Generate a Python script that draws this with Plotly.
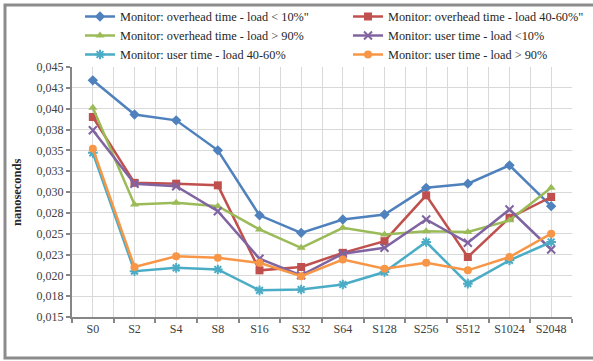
import plotly.graph_objects as go

categories = ["S0", "S2", "S4", "S8", "S16", "S32", "S64", "S128", "S256", "S512", "S1024", "S2048"]

overhead_lt10 = [0.0434, 0.0393, 0.0386, 0.0350, 0.0272, 0.0251, 0.0267, 0.0273, 0.0305, 0.0310, 0.0332, 0.0283]
overhead_40_60 = [0.0390, 0.0311, 0.0310, 0.0308, 0.0206, 0.0210, 0.0227, 0.0241, 0.0296, 0.0222, 0.0269, 0.0294]
overhead_gt90 = [0.0401, 0.0285, 0.0287, 0.0283, 0.0255, 0.0233, 0.0257, 0.0249, 0.0253, 0.0252, 0.0266, 0.0305]
user_lt10 = [0.0374, 0.0310, 0.0307, 0.0277, 0.0220, 0.0200, 0.0226, 0.0233, 0.0267, 0.0239, 0.0279, 0.0231]
user_40_60 = [0.0347, 0.0205, 0.0209, 0.0207, 0.0182, 0.0183, 0.0189, 0.0204, 0.0240, 0.0190, 0.0218, 0.0240]
user_gt90 = [0.0352, 0.0210, 0.0223, 0.0221, 0.0215, 0.0199, 0.0219, 0.0208, 0.0215, 0.0206, 0.0222, 0.0250]

y_tick_values = [0.015, 0.0175, 0.020, 0.0225, 0.025, 0.0275, 0.030, 0.0325, 0.035, 0.0375, 0.040, 0.0425, 0.045]
y_tick_labels = ["0,015", "0,018", "0,020", "0,023", "0,025", "0,028", "0,030",
                 "0,033", "0,035", "0,038", "0,040", "0,043", "0,045"]

series = [
    ("Monitor: overhead time - load < 10%\"", overhead_lt10, "#4F81BD", "diamond", 8, "legend"),
    ("Monitor: overhead time - load 40-60%\"", overhead_40_60, "#C0504D", "square", 8, "legend2"),
    ("Monitor: overhead time - load > 90%", overhead_gt90, "#9BBB59", "triangle-up", 8, "legend"),
    ("Monitor: user time - load <10%", user_lt10, "#8064A2", "x-thin-open", 8, "legend2"),
    ("Monitor: user time - load 40-60%", user_40_60, "#4BACC6", "asterisk-open", 8, "legend"),
    ("Monitor: user time - load > 90%", user_gt90, "#F79646", "circle", 8, "legend2"),
]

x_idx = list(range(len(categories)))

fig = go.Figure()
for name, vals, color, sym, size, leg in series:
    open_sym = sym.endswith("open")
    fig.add_trace(go.Scatter(
        x=x_idx, y=vals, name=name, mode="lines+markers",
        line=dict(color=color, width=2.5),
        marker=dict(symbol=sym, size=size, color=color,
                    line=dict(color=color, width=2 if open_sym else 0)),
        legend=leg,
    ))

L, R, T, B = 72, 21, 67, 44
W, H = 593, 361
pw, ph = W - L - R, H - T - B

def px(xp):
    return (xp - L) / pw

def py(yp):
    return (H - B - yp) / ph

font_family = "Liberation Serif"
legend_font = dict(family=font_family, size=12.3, color="#262626")

fig.update_layout(
    width=W, height=H,
    margin=dict(l=L, r=R, t=T, b=B, autoexpand=False),
    paper_bgcolor="white", plot_bgcolor="white",
    font=dict(family=font_family, size=12, color="#404040"),
    legend=dict(xref="container", yref="container", x=80 / W, y=1 - 2 / H,
                xanchor="left", yanchor="top",
                bgcolor="rgba(0,0,0,0)", font=legend_font, tracegroupgap=0),
    legend2=dict(xref="container", yref="container", x=348 / W, y=1 - 2 / H,
                 xanchor="left", yanchor="top",
                 bgcolor="rgba(0,0,0,0)", font=legend_font, tracegroupgap=0),
    xaxis=dict(
        range=[-0.5, 11.5], tickmode="array", tickvals=x_idx, ticktext=categories,
        ticks="", showgrid=True, gridcolor="#d9d9d9", gridwidth=1, automargin=False,
        showline=True, linecolor="#868686", linewidth=2, zeroline=False,
        tickfont=dict(family=font_family, size=12, color="#404040"),
        minor=dict(tick0=-0.5, dtick=1, ticks="outside", ticklen=4,
                   tickcolor="#868686", tickwidth=2, showgrid=True,
                   gridcolor="#d9d9d9", gridwidth=1),
    ),
    yaxis=dict(
        range=[0.015, 0.045], tickmode="array", tickvals=y_tick_values, ticktext=y_tick_labels,
        ticks="outside", ticklen=4, tickcolor="#868686", tickwidth=2, automargin=False,
        showgrid=True, gridcolor="#d9d9d9", gridwidth=1,
        showline=True, linecolor="#868686", linewidth=2, zeroline=False,
        tickfont=dict(family=font_family, size=12, color="#404040"),
    ),
    annotations=[dict(
        text="<b>nanoseconds</b>", xref="paper", yref="paper",
        x=px(17), y=0.5, xanchor="center", yanchor="middle", textangle=-90, showarrow=False,
        font=dict(family=font_family, size=12.5, color="#262626"),
    )],
    shapes=[dict(
        type="rect", xref="paper", yref="paper",
        x0=px(5), x1=px(640), y0=py(358), y1=py(5),
        line=dict(color="#8c8c8c", width=3), fillcolor="rgba(0,0,0,0)", layer="below",
    )],
)

fig.write_html(
    "out.html",
    config={"displayModeBar": False},
    post_script="document.body.style.margin='0';document.body.style.padding='0';",
)
